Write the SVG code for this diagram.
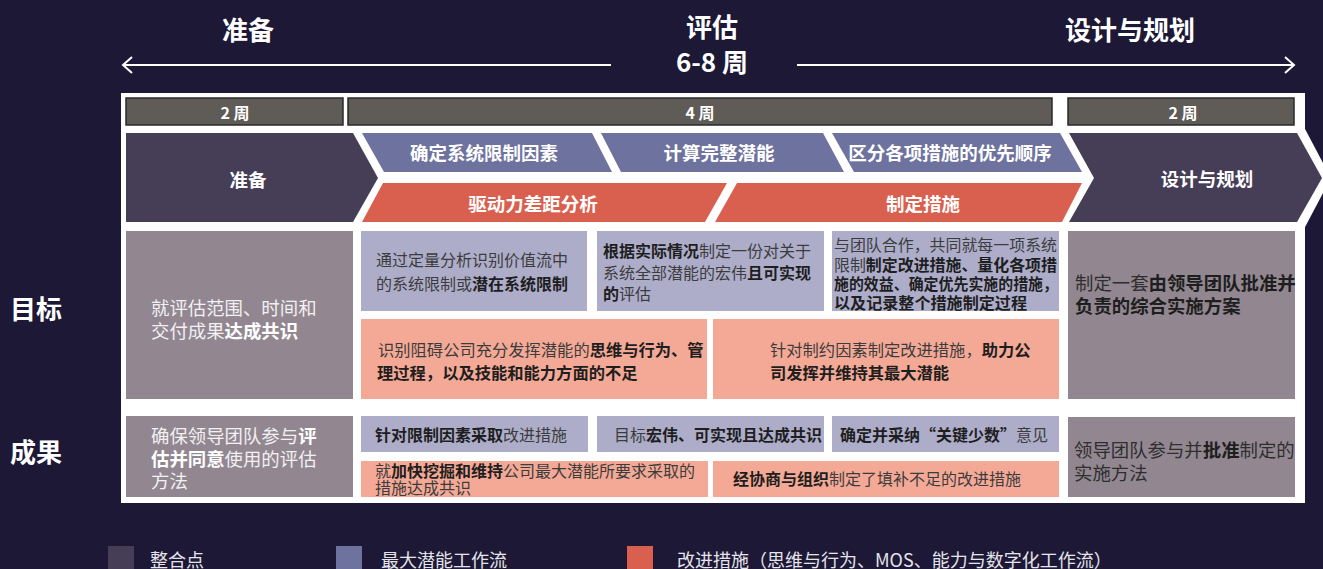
<svg xmlns="http://www.w3.org/2000/svg" width="1323" height="569" viewBox="0 0 1323 569">
<style>
text{font-family:"Noto Sans CJK SC","Noto Sans",sans-serif;dominant-baseline:central}
.ttl{font-size:26px;font-weight:bold;fill:#fff}
.wk{font-size:16px;font-weight:bold;fill:#fff;text-anchor:middle}
.chv{font-size:18.5px;font-weight:bold;fill:#fff;text-anchor:middle}
.side{font-size:26px;font-weight:bold;fill:#fff}
.t16{font-size:16px;fill:#3c3c3c}
.t15{font-size:15.5px;fill:#3c3c3c}
.t17{font-size:16.3px;fill:#3c3c3c}
.gl{font-size:18.4px;fill:#f2f0f2}
.gd{font-size:18.4px;fill:#2e2e2e}
.b{font-weight:bold;fill:#1e1e1e}
.bl{font-weight:bold;fill:#fff}
.leg{font-size:18px;fill:#e4e4ea}
.dk{fill:#463d56}.bu{fill:#6e729e}.rd{fill:#d9604e}
.lb{fill:#adadca}.ls{fill:#f4a996}.gy{fill:#928791}
.bar{fill:#5f5b57;stroke:#2a2a2a;stroke-width:1.5}
.ln{stroke:#fff;stroke-width:2;fill:none}
</style>
<rect width="1323" height="569" fill="#1d1836"/>
<g id="header">
<text class="ttl" x="248" y="28" text-anchor="middle">准备</text>
<text class="ttl" x="712" y="25" text-anchor="middle">评估</text>
<text class="ttl" x="712" y="60" text-anchor="middle">6-8 周</text>
<text class="ttl" x="1130" y="28" text-anchor="middle">设计与规划</text>
</g>
<g id="connectors">
<path class="ln" d="M123 65H611M132 57L123 65L132 73"/>
<path class="ln" d="M797 65H1294M1285 57L1294 65L1285 73"/>
</g>
<g id="panel">
<rect x="121" y="93" width="1184" height="410" fill="#fff"/>
<polygon points="1298,127 1304,127 1331,178 1304,229 1298,229" fill="#fff"/>
</g>
<g id="weeks">
<rect class="bar" x="126" y="98" width="217" height="27"/>
<text class="wk" x="235" y="112">2 周</text>
<rect class="bar" x="348" y="98" width="704" height="27"/>
<text class="wk" x="700" y="112">4 周</text>
<rect class="bar" x="1068" y="98" width="226" height="27"/>
<text class="wk" x="1183" y="112">2 周</text>
</g>
<g id="chevron-prep">
<polygon class="dk" points="126,133 353,133 378,178 353,222 126,222"/>
<text class="chv" x="248" y="179">准备</text>
</g>
<g id="stream-constraints">
<polygon class="bu" points="362,133 592,133 612,172 384,172"/>
<text class="chv" x="484" y="152">确定系统限制因素</text>
</g>
<g id="stream-potential">
<polygon class="bu" points="601,133 823,133 844,172 621,172"/>
<text class="chv" x="719" y="152">计算完整潜能</text>
</g>
<g id="stream-priority">
<polygon class="bu" points="832,133 1060,133 1082,172 854,172"/>
<text class="chv" x="950" y="152">区分各项措施的优先顺序</text>
</g>
<g id="stream-gap">
<polygon class="rd" points="383,183 727,183 705,222 362,222"/>
<text class="chv" x="533" y="203">驱动力差距分析</text>
</g>
<g id="stream-measures">
<polygon class="rd" points="737,183 1082,183 1062,222 715,222"/>
<text class="chv" x="923" y="203">制定措施</text>
</g>
<g id="chevron-design">
<polygon class="dk" points="1069,133 1297,133 1322,178 1297,222 1069,222 1094,178"/>
<text class="chv" x="1207" y="178">设计与规划</text>
</g>
<g id="side-labels">
<text class="side" x="10" y="307">目标</text>
<text class="side" x="10" y="450">成果</text>
</g>
<g id="obj-prep">
<rect class="gy" x="126" y="231" width="227" height="168"/>
<text class="gl" x="151" y="307">就评估范围、时间和</text>
<text class="gl" x="151" y="330">交付成果<tspan class="bl">达成共识</tspan></text>
</g>
<g id="obj-constraints">
<rect class="lb" x="361" y="231" width="226" height="80"/>
<text class="t16" x="376" y="259">通过定量分析识别价值流中</text>
<text class="t16" x="376" y="283">的系统限制或<tspan class="b">潜在系统限制</tspan></text>
</g>
<g id="obj-potential">
<rect class="lb" x="597" y="231" width="227" height="80"/>
<text class="t16" x="603" y="250"><tspan class="b">根据实际情况</tspan>制定一份对关于</text>
<text class="t16" x="603" y="272">系统全部潜能的宏伟<tspan class="b">且可实现</tspan></text>
<text class="t16" x="603" y="293"><tspan class="b">的</tspan>评估</text>
</g>
<g id="obj-priority">
<rect class="lb" x="832" y="231" width="227" height="80"/>
<text class="t15" x="834" y="244" textLength="223" lengthAdjust="spacingAndGlyphs">与团队合作，共同就每一项系统</text>
<text class="t15" x="834" y="264" textLength="223" lengthAdjust="spacingAndGlyphs">限制<tspan class="b">制定改进措施、量化各项措</tspan></text>
<text class="t15 b" x="834" y="283" textLength="224" lengthAdjust="spacingAndGlyphs">施的效益、确定优先实施的措施，</text>
<text class="t15 b" x="834" y="302" textLength="193" lengthAdjust="spacingAndGlyphs">以及记录整个措施制定过程</text>
</g>
<g id="obj-design">
<rect class="gy" x="1068" y="231" width="227" height="168"/>
<text class="gd" x="1075" y="282">制定一套<tspan class="b">由领导团队批准并</tspan></text>
<text class="gd b" x="1075" y="305">负责的综合实施方案</text>
</g>
<g id="obj-gap">
<rect class="ls" x="361" y="319" width="346" height="80"/>
<text class="t17" x="378" y="349">识别阻碍公司充分发挥潜能的<tspan class="b">思维与行为、管</tspan></text>
<text class="t17 b" x="377" y="372">理过程，以及技能和能力方面的不足</text>
</g>
<g id="obj-measures">
<rect class="ls" x="713" y="319" width="346" height="80"/>
<text class="t17" x="770" y="349">针对制约因素制定改进措施，<tspan class="b">助力公</tspan></text>
<text class="t17 b" x="770" y="372">司发挥并维持其最大潜能</text>
</g>
<g id="res-prep">
<rect class="gy" x="126" y="416" width="227" height="81"/>
<text class="gl" x="151" y="435">确保领导团队参与<tspan class="bl">评</tspan></text>
<text class="gl" x="151" y="458"><tspan class="bl">估并同意</tspan>使用的评估</text>
<text class="gl" x="151" y="480">方法</text>
</g>
<g id="res-constraints">
<rect class="lb" x="361" y="416" width="227" height="36"/>
<text class="t16" x="375" y="434"><tspan class="b">针对限制因素采取</tspan>改进措施</text>
</g>
<g id="res-potential">
<rect class="lb" x="597" y="416" width="227" height="36"/>
<text class="t16" x="614" y="434">目标<tspan class="b">宏伟、可实现且达成共识</tspan></text>
</g>
<g id="res-priority">
<rect class="lb" x="832" y="416" width="227" height="36"/>
<text class="t16" x="840" y="434"><tspan class="b">确定并采纳“关键少数”</tspan>意见</text>
</g>
<g id="res-gap">
<rect class="ls" x="361" y="461" width="347" height="36"/>
<text class="t16" x="375" y="470">就<tspan class="b">加快挖掘和维持</tspan>公司最大潜能所要求采取的</text>
<text class="t16" x="375" y="487">措施达成共识</text>
</g>
<g id="res-measures">
<rect class="ls" x="713" y="461" width="346" height="36"/>
<text class="t16" x="733" y="478"><tspan class="b">经协商与组织</tspan>制定了填补不足的改进措施</text>
</g>
<g id="res-design">
<rect class="gy" x="1068" y="417" width="227" height="80"/>
<text class="gd" x="1074" y="449">领导团队参与并<tspan class="b">批准</tspan>制定的</text>
<text class="gd" x="1074" y="472">实施方法</text>
</g>
<g id="legend">
<rect class="dk" x="108" y="546" width="26" height="24"/>
<text class="leg" x="150" y="559">整合点</text>
<rect class="bu" x="336" y="546" width="26" height="24"/>
<text class="leg" x="381" y="559">最大潜能工作流</text>
<rect class="rd" x="627" y="546" width="26" height="24"/>
<text class="leg" x="677" y="559">改进措施（思维与行为、MOS、能力与数字化工作流）</text>
</g>
</svg>
